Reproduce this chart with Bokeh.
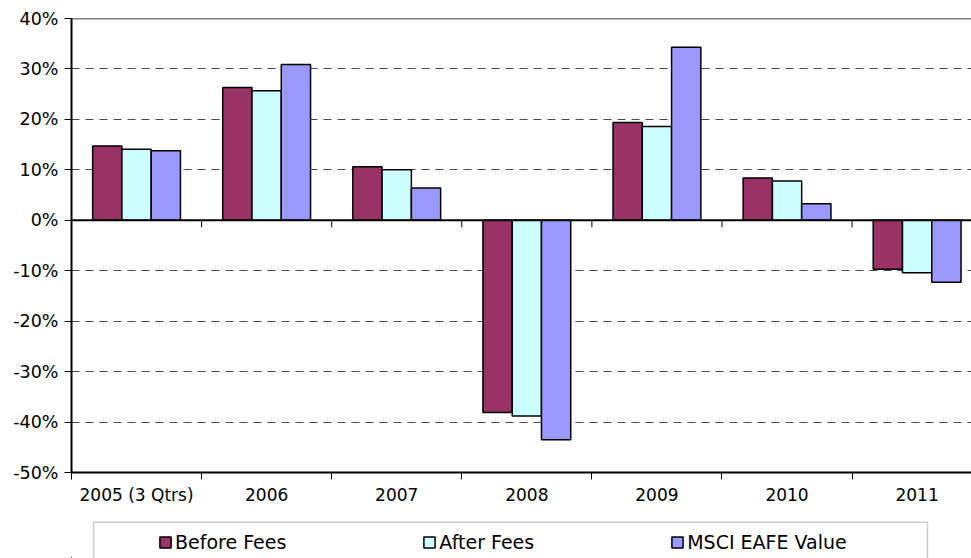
import numpy as np
from bokeh.plotting import figure
from bokeh.layouts import column
from bokeh.models import (Range1d, FixedTicker, PrintfTickFormatter, Span, Legend,
                          LegendItem, BoxAnnotation, ColumnDataSource)
from bokeh.embed import file_html
from bokeh.resources import INLINE

categories = ["2005 (3 Qtrs)", "2006", "2007", "2008", "2009", "2010", "2011"]
before_fees = [14.7, 26.3, 10.6, -38.1, 19.4, 8.4, -9.7]
after_fees = [14.1, 25.7, 10.0, -38.8, 18.6, 7.8, -10.4]
msci_eafe_value = [13.8, 30.9, 6.4, -43.5, 34.3, 3.3, -12.3]
series_names = ["Before Fees", "After Fees", "MSCI EAFE Value"]
y_ticks = [-50, -40, -30, -20, -10, 0, 10, 20, 30, 40]
grid_ticks = [-40, -30, -20, -10, 10, 20, 30]

colors = ["#993366", "#CCFFFF", "#9999FF"]
FONT = "DejaVu Sans"

n = len(categories)
centers = np.arange(n) + 0.5
boundaries = np.arange(n + 1)
bar_w = 0.225
offsets = [-bar_w, 0.0, bar_w]

p = figure(width=971, height=520, x_range=Range1d(0, 6.918), y_range=Range1d(-50, 40),
           output_backend="svg", toolbar_location=None,
           min_border_left=71, min_border_right=0, min_border_top=18, min_border_bottom=48)
p.outline_line_color = None
p.background_fill_color = "white"
p.border_fill_color = "white"

# grid
p.xgrid.visible = False
p.ygrid.ticker = FixedTicker(ticks=grid_ticks)
p.ygrid.grid_line_color = "#4a4a4a"
p.ygrid.grid_line_dash = "8 6"
p.ygrid.grid_line_width = 1

# y axis
p.yaxis.ticker = FixedTicker(ticks=y_ticks)
p.yaxis.formatter = PrintfTickFormatter(format="%d%%")
p.yaxis.major_tick_out = 7
p.yaxis.major_tick_in = 0
p.yaxis.minor_tick_line_color = None
p.yaxis.axis_line_width = 2
p.yaxis.axis_line_color = "black"
p.yaxis.major_tick_line_color = "black"
p.yaxis.major_label_standoff = 6
p.yaxis.major_label_text_font = FONT
p.yaxis.major_label_text_font_size = "17.5px"
p.yaxis.major_label_text_color = "black"

# x axis
p.xaxis.ticker = FixedTicker(ticks=[float(c) for c in centers],
                             minor_ticks=[float(b) for b in boundaries])
p.xaxis.major_label_overrides = {float(c): lab for c, lab in zip(centers, categories)}
p.xaxis.major_tick_line_color = None
p.xaxis.major_tick_out = 0
p.xaxis.major_tick_in = 0
p.xaxis.minor_tick_out = 7
p.xaxis.minor_tick_in = 0
p.xaxis.minor_tick_line_color = "black"
p.xaxis.axis_line_width = 2
p.xaxis.axis_line_color = "black"
p.xaxis.major_label_standoff = 5
p.xaxis.major_label_text_font = FONT
p.xaxis.major_label_text_font_size = "17px"
p.xaxis.major_label_text_color = "black"

# bars
sources = []
for vals, off, col in zip([before_fees, after_fees, msci_eafe_value], offsets, colors):
    src = ColumnDataSource(dict(x=centers + off, top=vals))
    sources.append(src)
    p.vbar(x="x", top="top", bottom=0, width=bar_w, source=src,
           fill_color=col, line_color="black", line_width=1.5)

# zero line with category ticks
p.add_layout(Span(location=0, dimension="width", line_color="black", line_width=2))
p.segment(x0=boundaries[1:-1], y0=0, x1=boundaries[1:-1], y1=-1.4,
          line_color="black", line_width=1)
# top border line
p.add_layout(Span(location=y_ticks[-1], dimension="width", line_color="black", line_width=1.5))

# ---- legend strip below the chart (its frame is aligned with the chart frame) ----
FRAME_LEFT = 71
lf = figure(width=971, height=38, x_range=Range1d(100, 101), y_range=Range1d(100, 101),
            output_backend="svg", toolbar_location=None,
            x_axis_type=None, y_axis_type=None, min_border=0)
lf.grid.visible = False
lf.outline_line_color = None
lf.background_fill_color = "white"
lf.border_fill_color = "white"

legend_renderers = []
for src, col in zip(sources, colors):
    r = lf.vbar(x="x", top="top", bottom=0, width=bar_w, source=src,
                fill_color=col, line_color="black", line_width=1.5)
    legend_renderers.append(r)

lf.add_layout(BoxAnnotation(left=93 - FRAME_LEFT, right=927 - FRAME_LEFT, top=36.3, bottom=-20,
                            left_units="screen", right_units="screen",
                            top_units="screen", bottom_units="screen",
                            fill_alpha=0, line_color="#555555", line_width=1.5))

legend = Legend(items=[LegendItem(label=nm, renderers=[r])
                       for nm, r in zip(series_names, legend_renderers)],
                orientation="horizontal", location=(158 - FRAME_LEFT, 5.5), padding=2, spacing=136,
                glyph_width=14, glyph_height=14, label_standoff=3, label_height=22,
                label_text_font=FONT, label_text_font_size="19px", label_text_color="black",
                border_line_color=None, background_fill_alpha=0, margin=0)
lf.add_layout(legend)

layout = column(p, lf, spacing=0)
open("out.html", "w").write(file_html(layout, INLINE))
